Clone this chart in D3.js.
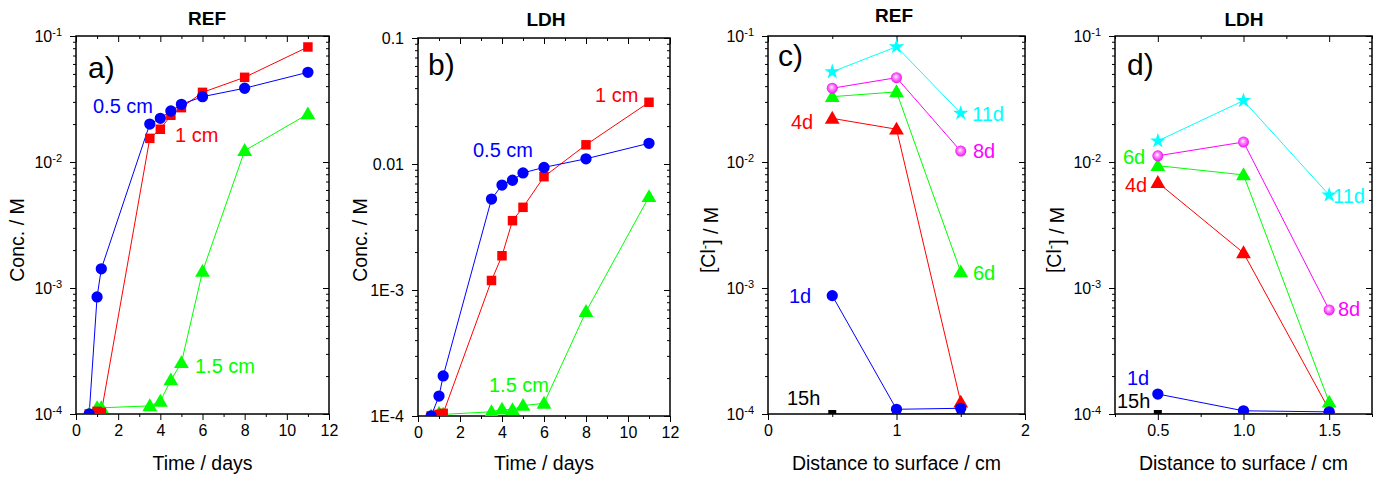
<!DOCTYPE html>
<html><head><meta charset="utf-8">
<script src="https://cdn.jsdelivr.net/npm/d3@7"></script>
<style>
body{margin:0;background:#fff}
svg{display:block}
text{font-family:"Liberation Sans",Arial,sans-serif}
</style>
</head><body>
<svg id="chart" width="1376" height="479"></svg>
<script>
// ---------------- DATA ----------------
const timeDays = [0.625, 1, 1.2, 3.5, 4, 4.5, 5, 6, 8, 11];
// REF, concentration vs time at three depths (M)
const refConc05 = [1e-4, 8.5e-4, 1.42e-3, 0.0200, 0.0222, 0.0254, 0.0287, 0.0330, 0.0385, 0.0515];
const refConc10 = [1e-4, 1.05e-4, 1.03e-4, 0.0154, 0.0182, 0.0235, 0.0270, 0.0357, 0.0470, 0.0818];
const refConc15 = [1e-4, 1.12e-4, 1.12e-4, 1.16e-4, 1.26e-4, 1.86e-4, 2.55e-4, 1.35e-3, 0.0123, 0.0240];
// LDH, concentration vs time at three depths (M)
const ldhConc05 = [1e-4, 1.44e-4, 2.08e-4, 5.27e-3, 6.8e-3, 7.43e-3, 8.5e-3, 9.4e-3, 0.0110, 0.0146];
const ldhConc10 = [1e-4, 1.03e-4, 1.05e-4, 1.19e-3, 1.87e-3, 3.55e-3, 4.53e-3, 7.93e-3, 0.0142, 0.0309];
const ldhConc15 = [1e-4, 1.05e-4, 1.03e-4, 1.08e-4, 1.13e-4, 1.12e-4, 1.21e-4, 1.26e-4, 6.73e-4, 5.5e-3];
// Profiles vs distance to surface (cm)
const distances = [0.5, 1.0, 1.5];
const refProfile15h = [1e-4, 1e-4, 1e-4];
const refProfile1d  = [8.7e-4, 1.09e-4, 1.11e-4];
const refProfile4d  = [0.0222, 0.0182, 1.24e-4];
const refProfile6d  = [0.0330, 0.0360, 1.34e-3];
const refProfile8d  = [0.0385, 0.0467, 0.0122];
const refProfile11d = [0.0520, 0.0822, 0.0244];
const ldhProfile15h = [1e-4, 1e-4, 1e-4];
const ldhProfile1d  = [1.44e-4, 1.06e-4, 1.04e-4];
const ldhProfile4d  = [6.86e-3, 1.90e-3, 1.08e-4];
const ldhProfile6d  = [9.35e-3, 7.90e-3, 1.24e-4];
const ldhProfile8d  = [0.0112, 0.0144, 6.7e-4];
const ldhProfile11d = [0.0147, 0.0307, 5.47e-3];
// Axis ticks
const timeTicks = [0, 2, 4, 6, 8, 10, 12];
const timeMinorTicks = [1, 3, 5, 7, 9, 11];
const distTicksC = [0, 1, 2];
const distMinorC = [0.5, 1.5];
const distTicksD = [0.5, 1.0, 1.5];
const distMinorD = [0.25, 0.75, 1.25, 1.75];
const concTicks = [1e-4, 1e-3, 1e-2, 1e-1];
const concTickLabelsB = ["1E-4", "1E-3", "0.01", "0.1"];

// ---------------- DRAWING ----------------
const svg = d3.select("#chart");
const defs = svg.append("defs");
const grad = defs.append("radialGradient").attr("id", "sphereMag")
  .attr("cx", "50%").attr("cy", "50%").attr("r", "55%").attr("fx", "42%").attr("fy", "38%");
grad.append("stop").attr("offset", "0%").attr("stop-color", "#ffffff");
grad.append("stop").attr("offset", "35%").attr("stop-color", "#ff90ff");
grad.append("stop").attr("offset", "100%").attr("stop-color", "#ee00ee");

const C = {blue: "#0000ff", red: "#ff0000", green: "#00ff00", mag: "#ff00ff", cyan: "#00ffff", black: "#000000"};

const yMinor = [];
[-4, -3, -2].forEach(e => { for (let k = 2; k <= 9; k++) yMinor.push(k * Math.pow(10, e)); });

function styleAxis(sel) {
  sel.select(".domain").remove();
  sel.selectAll(".tick line").attr("stroke", "#000").attr("stroke-width", 1);
  sel.selectAll(".tick text").attr("fill", "#000").attr("font-size", 16)
     .attr("font-family", '"Liberation Sans",Arial,sans-serif');
}

let clipId = 0;
function drawPanel(p) {
  const x = d3.scaleLinear().domain(p.xDomain).range([p.left, p.right]);
  const y = d3.scaleLog().domain([1e-4, 1e-1]).range([p.bottom, p.top]);
  const g = svg.append("g");

  // Title
  g.append("text").attr("x", p.titleX).attr("y", p.titleY).attr("text-anchor", "middle")
    .attr("font-size", 19).attr("font-weight", "bold").text(p.title);

  // Axes: bottom (outward), top (inward)
  g.append("g").attr("transform", `translate(0,${p.bottom})`)
    .call(d3.axisBottom(x).tickValues(p.xMajor).tickSize(6).tickPadding(5).tickFormat(p.xFormat)).call(styleAxis);
  g.append("g").attr("transform", `translate(0,${p.bottom})`)
    .call(d3.axisBottom(x).tickValues(p.xMinor).tickSize(3).tickFormat("")).call(styleAxis);
  g.append("g").attr("transform", `translate(0,${p.top})`)
    .call(d3.axisTop(x).tickValues(p.xMajor).tickSize(-6).tickFormat("")).call(styleAxis);
  g.append("g").attr("transform", `translate(0,${p.top})`)
    .call(d3.axisTop(x).tickValues(p.xMinor).tickSize(-3).tickFormat("")).call(styleAxis);

  // Left (outward), right (inward)
  const leftAx = g.append("g").attr("transform", `translate(${p.left},0)`)
    .call(d3.axisLeft(y).tickValues(concTicks).tickSize(6).tickPadding(8)
      .tickFormat((d, i) => p.yLabels ? p.yLabels[i] : "10")).call(styleAxis);
  if (!p.yLabels) {
    leftAx.selectAll(".tick text").each(function(d) {
      const t = d3.select(this);
      t.text(null);
      t.append("tspan").text("10");
      t.append("tspan").attr("dy", "-0.5em").attr("font-size", 11)
        .text(String(Math.round(Math.log10(d))));
    });
  }
  g.append("g").attr("transform", `translate(${p.left},0)`)
    .call(d3.axisLeft(y).tickValues(yMinor).tickSize(3).tickFormat("")).call(styleAxis);
  g.append("g").attr("transform", `translate(${p.right},0)`)
    .call(d3.axisRight(y).tickValues(concTicks).tickSize(-6).tickFormat("")).call(styleAxis);
  g.append("g").attr("transform", `translate(${p.right},0)`)
    .call(d3.axisRight(y).tickValues(yMinor).tickSize(-3).tickFormat("")).call(styleAxis);

  // Frame
  g.append("rect").attr("x", p.left).attr("y", p.top)
    .attr("width", p.right - p.left).attr("height", p.bottom - p.top)
    .attr("fill", "none").attr("stroke", "#000").attr("stroke-width", 1.5);

  // Axis titles
  g.append("text").attr("x", (p.left + p.right) / 2).attr("y", 470).attr("text-anchor", "middle")
    .attr("font-size", 19.5).text(p.xTitle);
  const yt = g.append("text").attr("transform", `translate(${p.yTitleX},240) rotate(-90)`)
    .attr("text-anchor", "middle").attr("font-size", 19.5);
  if (p.clLabel) {
    yt.append("tspan").text("[Cl");
    yt.append("tspan").attr("dy", "-0.45em").attr("font-size", 13).text("-");
    yt.append("tspan").attr("dy", "0.45em").text("] / M");
  } else {
    yt.text("Conc. / M");
  }

  // Clip
  const cid = "clip" + (clipId++);
  defs.append("clipPath").attr("id", cid).append("rect")
    .attr("x", p.left).attr("y", p.top).attr("width", p.right - p.left).attr("height", p.bottom - p.top);
  const plot = g.append("g").attr("clip-path", `url(#${cid})`);

  const line = d3.line().x(d => x(d[0])).y(d => y(d[1]));
  p.series.forEach(s => {
    const pts = s.xs.map((xv, i) => [xv, s.ys[i]]);
    plot.append("path").datum(pts).attr("d", line)
      .attr("fill", "none").attr("stroke", s.color).attr("stroke-width", 1);
  });
  p.series.forEach(s => {
    const pts = s.xs.map((xv, i) => [xv, s.ys[i]]);
    const sym = {circle: d3.symbolCircle, square: d3.symbolSquare, triangle: d3.symbolTriangle,
                 star: d3.symbolStar, sphere: d3.symbolCircle, smallsq: d3.symbolSquare}[s.marker];
    const size = {circle: 100, square: 90, triangle: 95, star: 75, sphere: 95, smallsq: 64}[s.marker];
    plot.selectAll(null).data(pts).enter().append("path")
      .attr("transform", d => `translate(${x(d[0])},${y(d[1]) + (s.marker === "triangle" ? 1 : 0)})`)
      .attr("d", d3.symbol().type(sym).size(size))
      .attr("fill", s.marker === "sphere" ? "url(#sphereMag)" : s.color)
      .attr("stroke", "none");
  });

  // Annotations (positioned relative to plot corner)
  p.labels.forEach(l => {
    g.append("text").attr("x", p.left + l.dx).attr("y", p.top + l.dy)
      .attr("font-size", l.size || 20).attr("fill", l.color || "#000").text(l.text);
  });
}

const fmtInt = d3.format("d");
const fmt1 = d3.format(".1f");

drawPanel({
  title: "REF", titleX: 207, titleY: 25,
  left: 76, right: 329, top: 36, bottom: 414,
  xDomain: [0, 12], xMajor: timeTicks, xMinor: timeMinorTicks, xFormat: fmtInt,
  xTitle: "Time / days", yTitleX: 24,
  series: [
    {xs: timeDays, ys: refConc15, color: C.green, marker: "triangle"},
    {xs: timeDays, ys: refConc10, color: C.red, marker: "square"},
    {xs: timeDays, ys: refConc05, color: C.blue, marker: "circle"}
  ],
  labels: [
    {text: "a)", dx: 12, dy: 42, size: 30},
    {text: "0.5 cm", dx: 17, dy: 77, color: C.blue},
    {text: "1 cm", dx: 99, dy: 106, color: C.red},
    {text: "1.5 cm", dx: 119, dy: 337, color: C.green}
  ]
});

drawPanel({
  title: "LDH", titleX: 546, titleY: 26,
  left: 418, right: 670, top: 38, bottom: 416,
  xDomain: [0, 12], xMajor: timeTicks, xMinor: timeMinorTicks, xFormat: fmtInt,
  xTitle: "Time / days", yTitleX: 367, yLabels: concTickLabelsB,
  series: [
    {xs: timeDays, ys: ldhConc15, color: C.green, marker: "triangle"},
    {xs: timeDays, ys: ldhConc10, color: C.red, marker: "square"},
    {xs: timeDays, ys: ldhConc05, color: C.blue, marker: "circle"}
  ],
  labels: [
    {text: "b)", dx: 10, dy: 37, size: 30},
    {text: "1 cm", dx: 177, dy: 64, color: C.red},
    {text: "0.5 cm", dx: 55, dy: 119, color: C.blue},
    {text: "1.5 cm", dx: 71, dy: 354, color: C.green}
  ]
});

drawPanel({
  title: "REF", titleX: 894, titleY: 22,
  left: 768, right: 1025, top: 36, bottom: 414,
  xDomain: [0, 2], xMajor: distTicksC, xMinor: distMinorC, xFormat: fmtInt,
  xTitle: "Distance to surface / cm", yTitleX: 715, clLabel: true,
  series: [
    {xs: distances, ys: refProfile15h, color: C.black, marker: "smallsq"},
    {xs: distances, ys: refProfile4d, color: C.red, marker: "triangle"},
    {xs: distances, ys: refProfile1d, color: C.blue, marker: "circle"},
    {xs: distances, ys: refProfile6d, color: C.green, marker: "triangle"},
    {xs: distances, ys: refProfile8d, color: C.mag, marker: "sphere"},
    {xs: distances, ys: refProfile11d, color: C.cyan, marker: "star"}
  ],
  labels: [
    {text: "c)", dx: 10, dy: 30, size: 30},
    {text: "4d", dx: 23, dy: 93, color: C.red},
    {text: "11d", dx: 204, dy: 85, color: C.cyan},
    {text: "8d", dx: 205, dy: 122, color: C.mag},
    {text: "6d", dx: 205, dy: 244, color: C.green},
    {text: "1d", dx: 21, dy: 267, color: C.blue},
    {text: "15h", dx: 19, dy: 369, color: C.black}
  ]
});

drawPanel({
  title: "LDH", titleX: 1244, titleY: 26,
  left: 1115, right: 1372, top: 36, bottom: 414,
  xDomain: [0.25, 1.75], xMajor: distTicksD, xMinor: distMinorD, xFormat: fmt1,
  xTitle: "Distance to surface / cm", yTitleX: 1061, clLabel: true,
  series: [
    {xs: distances, ys: ldhProfile15h, color: C.black, marker: "smallsq"},
    {xs: distances, ys: ldhProfile4d, color: C.red, marker: "triangle"},
    {xs: distances, ys: ldhProfile6d, color: C.green, marker: "triangle"},
    {xs: distances, ys: ldhProfile1d, color: C.blue, marker: "circle"},
    {xs: distances, ys: ldhProfile8d, color: C.mag, marker: "sphere"},
    {xs: distances, ys: ldhProfile11d, color: C.cyan, marker: "star"}
  ],
  labels: [
    {text: "d)", dx: 12, dy: 39, size: 30},
    {text: "6d", dx: 8, dy: 128, color: C.green},
    {text: "4d", dx: 10, dy: 156, color: C.red},
    {text: "11d", dx: 218, dy: 167, color: C.cyan},
    {text: "8d", dx: 223, dy: 280, color: C.mag},
    {text: "1d", dx: 12, dy: 349, color: C.blue},
    {text: "15h", dx: 2, dy: 372, color: C.black}
  ]
});
</script>
</body></html>
